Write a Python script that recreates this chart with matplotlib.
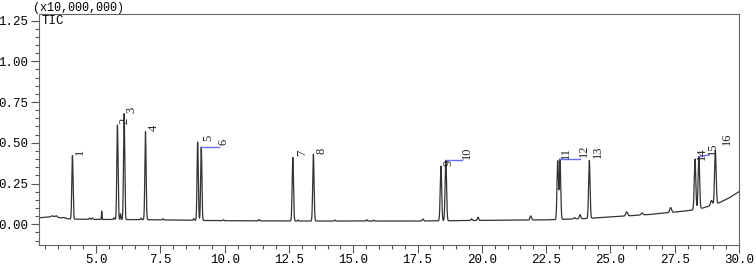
import numpy as np
import matplotlib
matplotlib.use("Agg")
import matplotlib.pyplot as plt
from matplotlib.ticker import MultipleLocator, FormatStrFormatter

# ---- data ----
# main labelled peaks: retention time (min), height above baseline (x10,000,000), sigma (min)
peak_ids = ["1", "2", "3", "4", "5", "6", "7", "8", "9", "10", "11", "12", "13", "14", "15", "16"]
peak_rt = [4.08, 5.83, 6.09, 6.92, 8.95, 9.09, 12.65, 13.45, 18.41, 18.60,
           22.95, 23.04, 24.18, 28.29, 28.44, 29.08]
peak_height = [0.39, 0.58, 0.65, 0.54, 0.48, 0.45, 0.39, 0.41, 0.335, 0.37,
               0.36, 0.37, 0.355, 0.31, 0.32, 0.33]
peak_sigma = [0.024, 0.024, 0.024, 0.024, 0.024, 0.024, 0.026, 0.026, 0.028, 0.028,
              0.027, 0.027, 0.028, 0.029, 0.029, 0.030]

# small unlabelled peaks
minor_rt = [3.30, 3.45, 3.75, 4.75, 4.85, 5.22, 5.70, 5.95, 6.75, 7.60, 8.80, 9.95,
            11.34, 12.85, 14.29, 15.52, 15.80, 17.71, 19.60, 19.85, 21.90, 23.60,
            23.82, 25.63, 26.23, 27.34, 28.93]
minor_height = [0.008, 0.010, 0.005, 0.008, 0.008, 0.050, 0.010, 0.035, 0.010, 0.007,
                0.010, 0.006, 0.008, 0.006, 0.006, 0.008, 0.005, 0.012, 0.010, 0.020,
                0.025, 0.008, 0.025, 0.025, 0.012, 0.030, 0.030]
minor_sigma = [0.05, 0.04, 0.05, 0.02, 0.02, 0.012, 0.02, 0.015, 0.02, 0.02, 0.02, 0.02,
               0.02, 0.02, 0.02, 0.02, 0.02, 0.025, 0.025, 0.025, 0.03, 0.03, 0.03,
               0.035, 0.035, 0.035, 0.035]

# baseline drift anchor points
base_rt = [2.78, 3.2, 3.6, 4.0, 5.0, 7.0, 10.0, 12.5, 15.0, 17.5, 20.0, 22.5, 24.0,
           25.0, 26.5, 27.5, 28.1, 28.6, 29.2, 29.6, 30.0]
base_level = [0.040, 0.045, 0.040, 0.032, 0.030, 0.028, 0.022, 0.020, 0.020, 0.020,
              0.024, 0.027, 0.035, 0.045, 0.060, 0.075, 0.085, 0.100, 0.130, 0.160, 0.200]

# label anchors (left / bottom of the rotated label)
label_x = [4.15, 5.87, 6.13, 7.02, 9.14, 9.72, 12.78, 13.52, 18.46, 19.17,
           23.03, 23.75, 24.28, 28.33, 28.76, 29.28]
label_y = [0.425, 0.615, 0.683, 0.573, 0.51, 0.486, 0.42, 0.43, 0.357, 0.40,
           0.40, 0.415, 0.405, 0.395, 0.425, 0.485]
# peaks that have a blue connector to their label
connector_ids = ["6", "10", "12", "15"]

x_ticks = [5.0, 7.5, 10.0, 12.5, 15.0, 17.5, 20.0, 22.5, 25.0, 27.5, 30.0]
y_ticks = [0.00, 0.25, 0.50, 0.75, 1.00, 1.25]

# ---- build trace ----
t = np.linspace(2.78, 30.0, 14000)
signal = np.interp(t, base_rt, base_level)
for rt, h, s in zip(peak_rt + minor_rt, peak_height + minor_height, peak_sigma + minor_sigma):
    signal = signal + h * np.exp(-0.5 * ((t - rt) / s) ** 2)

mono = "Liberation Mono"
serif = "Liberation Serif"
fig = plt.figure(figsize=(7.56, 2.65), dpi=100)
ax = fig.add_axes([39 / 756, 1 - 245 / 265, 700 / 756, 231 / 265])
ax.plot(t, signal, color="#333333", lw=0.9)

ax.set_xlim(2.78, 30.0)
ax.set_ylim(-0.127, 1.29)

ax.xaxis.set_major_locator(MultipleLocator(2.5))
ax.xaxis.set_minor_locator(MultipleLocator(0.5))
ax.yaxis.set_major_locator(MultipleLocator(0.25))
ax.yaxis.set_minor_locator(MultipleLocator(0.05))
ax.set_xticks(x_ticks)
ax.set_yticks(y_ticks)
ax.xaxis.set_major_formatter(FormatStrFormatter("%.1f"))
ax.yaxis.set_major_formatter(FormatStrFormatter("%.2f"))
ax.tick_params(which="major", direction="out", length=5.5, width=0.8, color="#555555",
               labelsize=9, pad=2)
ax.tick_params(axis="x", which="major", pad=1)
ax.tick_params(which="minor", direction="out", length=3, width=0.8, color="#555555")
for lab in ax.get_xticklabels() + ax.get_yticklabels():
    lab.set_family(mono)
for sp in ax.spines.values():
    sp.set_color("#666666")
    sp.set_linewidth(0.8)

apex = {pid: (rt, np.interp(rt, t, signal)) for pid, rt in zip(peak_ids, peak_rt)}
for pid, lx, ly in zip(peak_ids, label_x, label_y):
    ax.text(lx, ly, pid, rotation=90, ha="left", va="bottom", fontsize=9,
            family=serif, color="#222222")
    if pid in connector_ids:
        ax_rt, ay = apex[pid]
        ax.plot([ax_rt, lx + 0.06], [ay, ly if pid == "15" else ay],
                color="#6b6bff", lw=1.0)

ax.text(0.003, 0.995, "TIC", transform=ax.transAxes, ha="left", va="top",
        fontsize=9, family=mono)
fig.text(33 / 756, 1 - 8 / 265, "(x10,000,000)", ha="left", va="center",
         fontsize=8.5, family=mono)

fig.savefig("out.png", dpi=100)
